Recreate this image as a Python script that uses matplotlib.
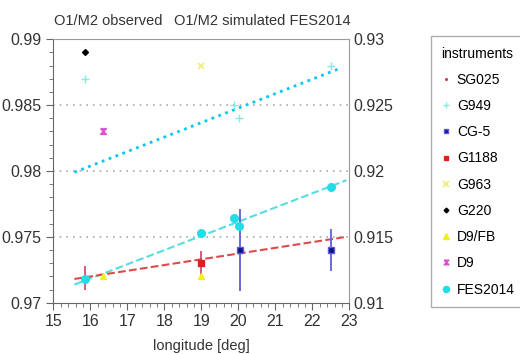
import numpy as np
import matplotlib
matplotlib.use('Agg')
import matplotlib.pyplot as plt
from matplotlib.ticker import MultipleLocator
from matplotlib.path import Path

plt.rcParams['font.family'] = ['Liberation Sans', 'DejaVu Sans']

# data (O1/M2 ratio vs longitude)
sg025_lon = [15.85]
sg025_val = [0.9719]
sg025_err = [0.0009]

g949_lon = [15.85, 19.87, 20.03, 22.5]
g949_val = [0.987, 0.985, 0.984, 0.988]

cg5_lon = [20.05, 22.5]
cg5_val = [0.974, 0.974]
cg5_err = [0.0031, 0.0016]

g1188_lon = [19.0]
g1188_val = [0.973]
g1188_err = [0.0009]

g963_lon = [19.0]
g963_val = [0.988]

g220_lon = [15.85]
g220_val = [0.989]

d9fb_lon = [16.33, 19.0]
d9fb_val = [0.972, 0.972]

d9_lon = [16.33]
d9_val = [0.983]

fes_lon = [15.85, 18.99, 19.87, 20.03, 22.51]
fes_val = [0.9718, 0.9753, 0.9764, 0.9758, 0.9788]

# trend lines (end points)
trend_obs_lon = [15.57, 22.92]
trend_obs_val = [0.9718, 0.9750]
trend_fes_lon = [15.57, 22.92]
trend_fes_val = [0.97137, 0.9793]
trend_g949_lon = [15.57, 22.75]
trend_g949_val = [0.9799, 0.9878]

hourglass = Path([(-1, 1), (1, 1), (-1, -1), (1, -1), (-1, 1)])

fig = plt.figure(figsize=(5.2, 3.54), dpi=100)
ax = fig.add_axes([0.1025, 0.145, 0.5695, 0.744])

for yv in [0.975, 0.98, 0.985]:
    ax.axhline(yv, color='#aaaaaa', ls=(0, (1, 3)), lw=1.2, zorder=0)

ax.plot(trend_g949_lon, trend_g949_val, ':', color='#00c8f0', lw=2)
ax.plot(trend_fes_lon, trend_fes_val, '--', color='#55dde0', lw=1.5)
ax.plot(trend_obs_lon, trend_obs_val, '--', color='#dd4a4a', lw=1.5)

ax.errorbar(sg025_lon, sg025_val, yerr=sg025_err, fmt='none', ecolor='#d04060', elinewidth=1.2)
ax.errorbar(g1188_lon, g1188_val, yerr=g1188_err, fmt='none', ecolor='#d04060', elinewidth=1.2)
ax.errorbar(cg5_lon, cg5_val, yerr=cg5_err, fmt='none', ecolor='#6a6ad8', elinewidth=1.4)

h = []
h += ax.plot(sg025_lon, sg025_val, '.', color='#dd3344', ms=3, label='SG025')
h += ax.plot(g949_lon, g949_val, '+', color='#80ece4', ms=6, mew=1.0, label='G949')
h += ax.plot(cg5_lon, cg5_val, 's', mfc='#101080', mec='#5a5ae0', ms=4, label='CG-5')
h += ax.plot(g1188_lon, g1188_val, 's', color='#e02020', ms=4, label='G1188')
h += ax.plot(g963_lon, g963_val, 'x', color='#eeee80', ms=5, mew=1.3, label='G963')
h += ax.plot(g220_lon, g220_val, 'D', color='black', ms=3, label='G220')
h += ax.plot(d9fb_lon, d9fb_val, '^', color='#f0f020', ms=5, label='D9/FB')
h += ax.plot(d9_lon, d9_val, marker=hourglass, ls='none', color='#dd55cc', ms=4, mew=1.2, label='D9')
h += ax.plot(fes_lon, fes_val, 'o', color='#22dde8', ms=5.5, label='FES2014')

ax.set_xlim(15, 23)
ax.set_ylim(0.97, 0.99)
ax.xaxis.set_major_locator(MultipleLocator(1))
ax.xaxis.set_minor_locator(MultipleLocator(0.2))
ax.yaxis.set_minor_locator(MultipleLocator(0.001))
ax.set_yticks([0.97, 0.975, 0.98, 0.985, 0.99])
ax.set_yticklabels(['0.97', '0.975', '0.98', '0.985', '0.99'])
ax.tick_params(axis='both', which='major', direction='out', length=5, labelsize=11.5,
               color='#666666', labelcolor='#333333')
ax.tick_params(axis='both', which='minor', direction='out', length=3, color='#666666')
for s in ax.spines.values():
    s.set_color('#999999')
ax.spines['left'].set_color('#666666')
ax.spines['bottom'].set_color('#666666')

ax2 = ax.twinx()
ax2.set_ylim(0.91, 0.93)
ax2.set_yticks([0.91, 0.915, 0.92, 0.925, 0.93])
ax2.set_yticklabels(['0.91', '0.915', '0.92', '0.925', '0.93'])
ax2.tick_params(axis='y', length=0, labelsize=11.5, labelcolor='#333333', pad=3)
for s in ax2.spines.values():
    s.set_visible(False)

ax.set_xlabel('longitude [deg]', fontsize=10.5, color='#333333', labelpad=7)
fig.text(0.104, 0.9415, 'O1/M2 observed', fontsize=10.5, color='#333333', ha='left', va='center')
fig.text(0.674, 0.9415, 'O1/M2 simulated FES2014', fontsize=10.5, color='#333333', ha='right', va='center')

leg = fig.legend(handles=h, loc='upper left', bbox_to_anchor=(0.829, 0.898),
                 title='instruments', fontsize=10, title_fontsize=10, frameon=True, fancybox=False,
                 edgecolor='#999999', labelspacing=0.88, handlelength=0.6, handletextpad=0.5,
                 borderpad=0.75, borderaxespad=0, markerscale=0.8, alignment='left')
leg.get_frame().set_linewidth(1)

fig.savefig('out.png', dpi=100)
